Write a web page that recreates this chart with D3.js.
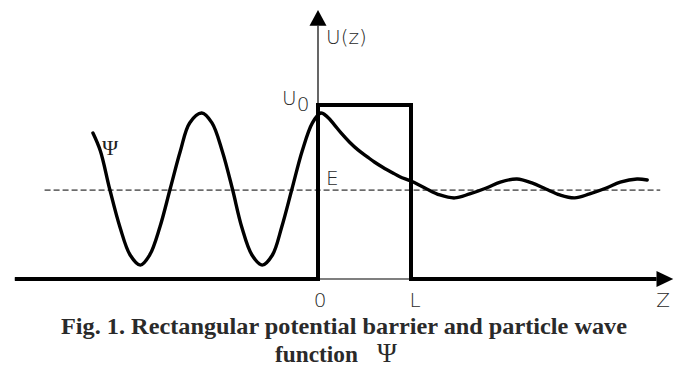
<!DOCTYPE html>
<html>
<head>
<meta charset="utf-8">
<script src="https://cdn.jsdelivr.net/npm/d3@7"></script>
<style>
  body { margin: 0; background: #fff; }
  svg { display: block; }
  .lbl { font-family: "DejaVu Sans", "Liberation Sans", sans-serif; font-size: 20px; font-weight: 200; fill: #2a2a2a; }
  .cap { font-family: "Liberation Serif", "Times New Roman", serif; font-weight: bold; fill: #2a2a2a; }
</style>
</head>
<body>
<svg width="683" height="374"></svg>
<script>
// barrier (in units of L and U0)
const L = 1;
const U0 = 1;
const E = 0.511;

// axis extents
const zStart = -3.26, zArrowBase = 3.64, zTip = 3.82;
const uArrowBase = 1.455, uTip = 1.546;
const eStart = -2.94, eEnd = 3.68;

// wave function psi
const waveZ = [-2.42, -2.34, -2.24, -2.13, -2.02, -1.91, -1.81, -1.70, -1.59, -1.48, -1.38, -1.25,
               -1.14, -1.03, -0.92, -0.82, -0.71, -0.60, -0.49, -0.39, -0.28, -0.17, -0.06, 0.03,
               0.10, 0.17, 0.25, 0.34, 0.43, 0.53, 0.61, 0.70, 0.80, 0.88, 1.00,
               1.15, 1.31, 1.47, 1.63, 1.81, 1.96, 2.14, 2.30, 2.45, 2.60, 2.76, 2.92, 3.10, 3.25, 3.43, 3.54];
const waveU = [0.839, 0.736, 0.517, 0.299, 0.138, 0.080, 0.138, 0.299, 0.517, 0.736, 0.897, 0.954,
               0.897, 0.736, 0.517, 0.299, 0.138, 0.080, 0.138, 0.299, 0.517, 0.736, 0.897, 0.954,
               0.932, 0.890, 0.838, 0.786, 0.742, 0.702, 0.671, 0.641, 0.611, 0.588, 0.563,
               0.523, 0.483, 0.466, 0.489, 0.523, 0.557, 0.575, 0.552, 0.517, 0.483, 0.466, 0.489, 0.523, 0.557, 0.575, 0.569];

// axis labels
const zLabels = ["0", "L", "Z"];
const zLabelPos = [0, L, 3.69];

const svg = d3.select("svg");

const x = d3.scaleLinear().domain([0, L]).range([318, 411]);
const y = d3.scaleLinear().domain([0, U0]).range([279, 105]);

const g = svg.append("g");

// thin axes
g.append("line")
  .attr("x1", x(zStart)).attr("x2", x(zArrowBase))
  .attr("y1", y(0)).attr("y2", y(0))
  .attr("stroke", "#000").attr("stroke-width", 1.2);
g.append("line")
  .attr("x1", x(0)).attr("x2", x(0))
  .attr("y1", y(0)).attr("y2", y(uArrowBase))
  .attr("stroke", "#000").attr("stroke-width", 1.2);

// arrows
g.append("path")
  .attr("d", `M${x(zTip)},${y(0)} L${x(zArrowBase)},${y(0) - 8} L${x(zArrowBase)},${y(0) + 8} Z`)
  .attr("fill", "#000");
g.append("path")
  .attr("d", `M${x(0)},${y(uTip)} L${x(0) - 8.5},${y(uArrowBase)} L${x(0) + 8.5},${y(uArrowBase)} Z`)
  .attr("fill", "#000");

// potential U(z): thick line, thin under the barrier
const thick = d3.line().x(d => x(d[0])).y(d => y(d[1]));
g.append("path")
  .attr("d", thick([[zStart, 0], [0, 0], [0, U0], [L, U0], [L, 0], [zArrowBase, 0]]))
  .attr("fill", "none").attr("stroke", "#000").attr("stroke-width", 4)
  .attr("stroke-linejoin", "miter");

// energy level E
g.append("line")
  .attr("x1", x(eStart)).attr("x2", x(eEnd))
  .attr("y1", y(E)).attr("y2", y(E))
  .attr("stroke", "#000").attr("stroke-width", 1)
  .attr("stroke-dasharray", "6,3");

// wave function
const wave = d3.line()
  .x((d, i) => x(waveZ[i]))
  .y(d => y(d))
  .curve(d3.curveCatmullRom);
g.append("path")
  .attr("d", wave(waveU))
  .attr("fill", "none").attr("stroke", "#000").attr("stroke-width", 3.4)
  .attr("stroke-linecap", "round").attr("stroke-linejoin", "round");

// labels
g.selectAll(".zlab")
  .data(zLabels)
  .enter().append("text")
  .attr("class", "lbl")
  .attr("x", (d, i) => x(zLabelPos[i]) + (d === "L" ? 4 : 2))
  .attr("y", 307)
  .attr("text-anchor", "middle")
  .text(d => d);

g.append("text").attr("class", "lbl")
  .attr("x", 326).attr("y", 44).text("U(z)");

const u0 = g.append("text").attr("class", "lbl")
  .attr("x", 282).attr("y", 105);
u0.append("tspan").text("U");
u0.append("tspan").attr("dy", 6).text("0");

g.append("text").attr("class", "lbl")
  .attr("x", 326).attr("y", 185).text("E");

g.append("text")
  .attr("x", 102).attr("y", 155)
  .style("font-family", "Liberation Serif, serif")
  .style("font-size", "22px")
  .style("fill", "#222")
  .text("Ψ");

// caption
svg.append("text").attr("class", "cap")
  .attr("x", 61).attr("y", 334)
  .style("font-size", "23px")
  .attr("textLength", 566).attr("lengthAdjust", "spacingAndGlyphs")
  .text("Fig. 1.  Rectangular potential barrier and particle wave");

const cap2 = svg.append("text").attr("class", "cap")
  .attr("x", 275).attr("y", 362)
  .style("font-size", "23px");
cap2.append("tspan").attr("textLength", 83).attr("lengthAdjust", "spacingAndGlyphs").text("function");
cap2.append("tspan").attr("x", 377).style("font-weight", "normal").style("font-size", "27px").text("Ψ");
</script>
</body>
</html>
